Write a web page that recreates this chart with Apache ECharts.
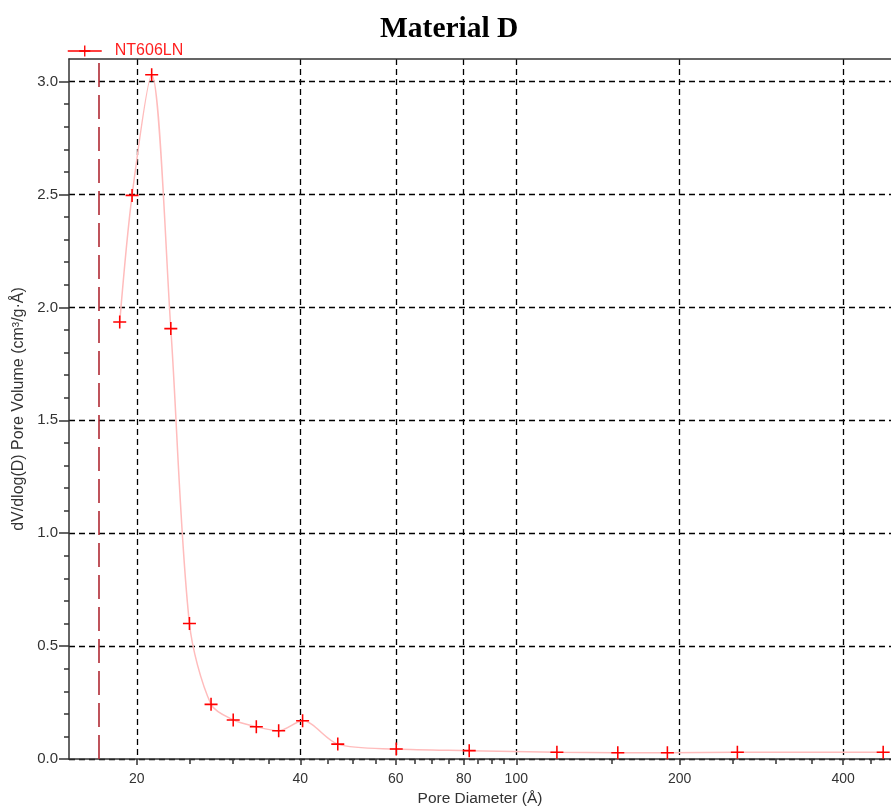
<!DOCTYPE html>
<html><head><meta charset="utf-8">
<script src="https://cdn.jsdelivr.net/npm/echarts@6/dist/echarts.min.js"></script>
<style>html,body{margin:0;padding:0;background:#fff}#c{width:891px;height:807px}</style>
</head><body><div id="c"></div>
<script>
const seriesName = 'NT606LN';
const poreDiameter = [18.6, 19.6, 21.3, 23.1, 25.0, 27.4, 30.1, 33.2, 36.5, 40.4, 46.9, 60.1, 81.9, 118.8, 153.8, 189.8, 255.4, 474];
const poreVolume = [1.935, 2.496, 3.030, 1.906, 0.600, 0.242, 0.173, 0.143, 0.125, 0.169, 0.066, 0.044, 0.037, 0.030, 0.028, 0.028, 0.030, 0.030];
const xMajorTicks = [20, 40, 60, 80, 100, 200, 400];
const xMinorTicks = [25, 30, 35, 45, 50, 55, 65, 70, 75, 85, 90, 95, 150, 250, 300, 350, 450];
const yMajorTicks = [0, 0.5, 1.0, 1.5, 2.0, 2.5, 3.0];
const yMinorTicks = [0.1, 0.2, 0.3, 0.4, 0.6, 0.7, 0.8, 0.9, 1.1, 1.2, 1.3, 1.4, 1.6, 1.7, 1.8, 1.9, 2.1, 2.2, 2.3, 2.4, 2.6, 2.7, 2.8, 2.9];
const cutoffDiameter = 17;
const xMin = 15, xMax = 490, yMin = 0, yMax = 3.1;

const sans = 'Liberation Sans, Arial, sans-serif';
const axisColor = '#333';
const chart = echarts.init(document.getElementById('c'), null, {renderer: 'canvas'});
const crossPath = 'path://M4.4,0 L5.6,0 L5.6,4.4 L10,4.4 L10,5.6 L5.6,5.6 L5.6,10 L4.4,10 L4.4,5.6 L0,5.6 L0,4.4 L4.4,4.4 Z';

chart.setOption({
  animation: false,
  backgroundColor: '#fff',
  title: {
    text: '{a|Material }{b|D}',
    left: 375,
    top: 9,
    textStyle: {
      rich: {
        a: {fontFamily: 'Liberation Serif, Times New Roman, serif', fontSize: 29.5, color: '#000'},
        b: {fontFamily: 'Liberation Serif, Times New Roman, serif', fontSize: 29.5, color: '#000', fontWeight: 'bold'}
      }
    }
  },
  legend: {
    left: 62, top: 38,
    itemWidth: 34, itemHeight: 14,
    data: [{name: seriesName, itemStyle: {color: '#ff0000'}, lineStyle: {color: '#ff0000', width: 1.5}}],
    textStyle: {color: '#ff2020', fontSize: 16, fontFamily: sans, padding: [0, 0, 0, 8]}
  },
  grid: {left: 69, right: 0, top: 59, bottom: 48, containLabel: false, outerBoundsMode: 'none'},
  xAxis: [
    {
      type: 'log', min: xMin, max: xMax,
      name: 'Pore Diameter (Å)', nameLocation: 'middle', nameGap: 32,
      nameTextStyle: {color: axisColor, fontSize: 15.5, fontFamily: sans},
      axisLine: {show: true, lineStyle: {color: axisColor, width: 1.5}},
      axisTick: {show: true, customValues: xMajorTicks, length: 6, lineStyle: {color: axisColor, width: 1.5}},
      axisLabel: {customValues: xMajorTicks, color: axisColor, fontSize: 14, fontFamily: sans, margin: 13, formatter: v => String(Math.round(v))},
      splitLine: {show: true, lineStyle: {color: '#000', type: [6, 4], width: 1.3}},
      minorTick: {show: false}, minorSplitLine: {show: false}
    },
    {
      type: 'log', min: xMin, max: xMax, position: 'bottom',
      axisLine: {show: false},
      axisTick: {show: true, customValues: xMinorTicks, length: 5, lineStyle: {color: axisColor, width: 1.5}},
      axisLabel: {show: false},
      splitLine: {show: false}
    },
    {
      type: 'log', min: xMin, max: xMax, position: 'top',
      axisLine: {show: true, lineStyle: {color: axisColor, width: 1.5}},
      axisTick: {show: false}, axisLabel: {show: false}, splitLine: {show: false}
    }
  ],
  yAxis: [
    {
      type: 'value', min: yMin, max: yMax,
      name: 'dV/dlog(D) Pore Volume (cm³/g·Å)', nameLocation: 'middle', nameGap: 41,
      nameTextStyle: {color: axisColor, fontSize: 16, fontFamily: sans},
      axisLine: {show: true, lineStyle: {color: axisColor, width: 1.5}},
      axisTick: {show: true, customValues: yMajorTicks, length: 10, lineStyle: {color: axisColor, width: 1.5}},
      axisLabel: {customValues: yMajorTicks, color: axisColor, fontSize: 15, fontFamily: sans, margin: 11, formatter: v => v.toFixed(1)},
      splitLine: {show: true, lineStyle: {color: '#000', type: [6, 4], width: 1.3}}
    },
    {
      type: 'value', min: yMin, max: yMax, position: 'left',
      axisLine: {show: false},
      axisTick: {show: true, customValues: yMinorTicks, length: 5, lineStyle: {color: axisColor, width: 1.5}},
      axisLabel: {show: false},
      splitLine: {show: false}
    }
  ],
  series: [{
    name: seriesName,
    type: 'line',
    xAxisIndex: 0, yAxisIndex: 0,
    data: poreDiameter.map((d, i) => [d, poreVolume[i]]),
    smooth: 0.3,
    symbol: crossPath,
    symbolSize: 13,
    showAllSymbol: true,
    itemStyle: {color: '#ff0000'},
    lineStyle: {color: '#ffbcbc', width: 1.5},
    z: 5,
    markLine: {
      silent: true,
      symbol: 'none',
      label: {show: false},
      lineStyle: {color: '#b02a34', type: [24, 8], width: 1.6},
      data: [{xAxis: cutoffDiameter}]
    }
  }]
});
</script></body></html>
